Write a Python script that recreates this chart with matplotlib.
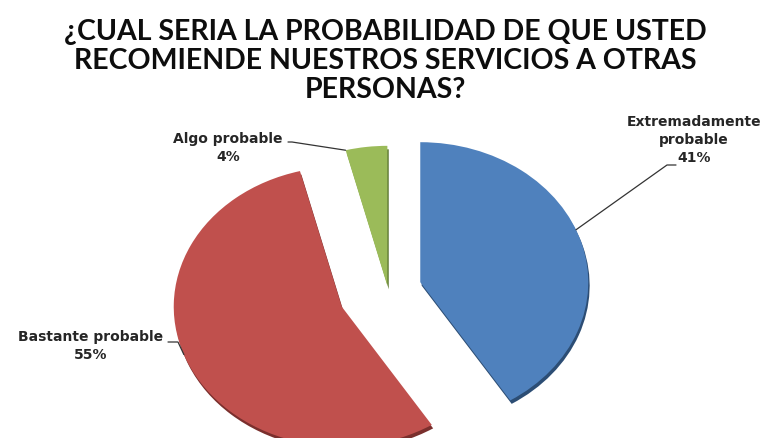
import numpy as np
import matplotlib
matplotlib.use("Agg")
import matplotlib.pyplot as plt
import matplotlib.patheffects as pe

W, H = 770, 438

title = "¿CUAL SERIA LA PROBABILIDAD DE QUE USTED\nRECOMIENDE NUESTROS SERVICIOS A OTRAS\nPERSONAS?"
categories = ["Extremadamente\nprobable", "Bastante probable", "Algo probable"]
values = [41, 55, 4]
colors = ["#4F81BD", "#C0504D", "#9BBB59"]
rims = ["#2c4d74", "#7a2f2d", "#5f7a33"]
explode = [0.20, 0.30, 0.03]

# label text centre (pixels from top-left) and anchor angle on each arc (deg)
label_px = [(694, 140), (91, 346), (228, 148)]
anchor_deg = [22, 200, None]   # None -> use the wedge's upper corner
# leader line: elbow point, then a short horizontal tail towards the label
elbow_px = [(667, 165), (178, 342), (292, 142)]
tail_px = [(676, 165), (168, 342), (288, 142)]

# pie centre in pixels and radii (the original is stretched into an ellipse)
CX, CY, RX, RY = 388, 290, 168, 140


def to_data(x, y):
    return (x - CX) / RX, (CY - y) / RY


fig = plt.figure(figsize=(W / 100, H / 100), dpi=100)
ax = fig.add_axes([0, 0, 1, 1])
wedges, _ = ax.pie(values, colors=colors, explode=explode, startangle=90,
                   counterclock=False, radius=1,
                   wedgeprops=dict(linewidth=0))
for w, rim in zip(wedges, rims):
    w.set_path_effects([pe.SimplePatchShadow(offset=(1, -2.5), shadow_rgbFace=rim,
                                             alpha=1), pe.Normal()])
ax.set_aspect("auto")
ax.set_xlim(-CX / RX, (W - CX) / RX)
ax.set_ylim(-(H - CY) / RY, CY / RY)
ax.axis("off")

fig.text(0.5, 1 - 61 / H, title, ha="center", va="center", fontsize=20.5,
         fontweight="bold", family="Lato", color="#0d0d0d", linespacing=1.13)

for w, cat, v, lp, ang, el, tl in zip(wedges, categories, values, label_px,
                                      anchor_deg, elbow_px, tail_px):
    cx, cy = w.center
    a = np.deg2rad(w.theta2 if ang is None else ang)
    pts = [(cx + w.r * np.cos(a), cy + w.r * np.sin(a)), to_data(*el), to_data(*tl)]
    ax.plot([p[0] for p in pts], [p[1] for p in pts], color="#333333", lw=0.9,
            solid_capstyle="round")
    ax.text(*to_data(*lp), f"{cat}\n{v}%", ha="center", va="center",
            fontsize=10, fontweight="bold", color="#262626", linespacing=1.38)

fig.savefig("out.png", dpi=100)
